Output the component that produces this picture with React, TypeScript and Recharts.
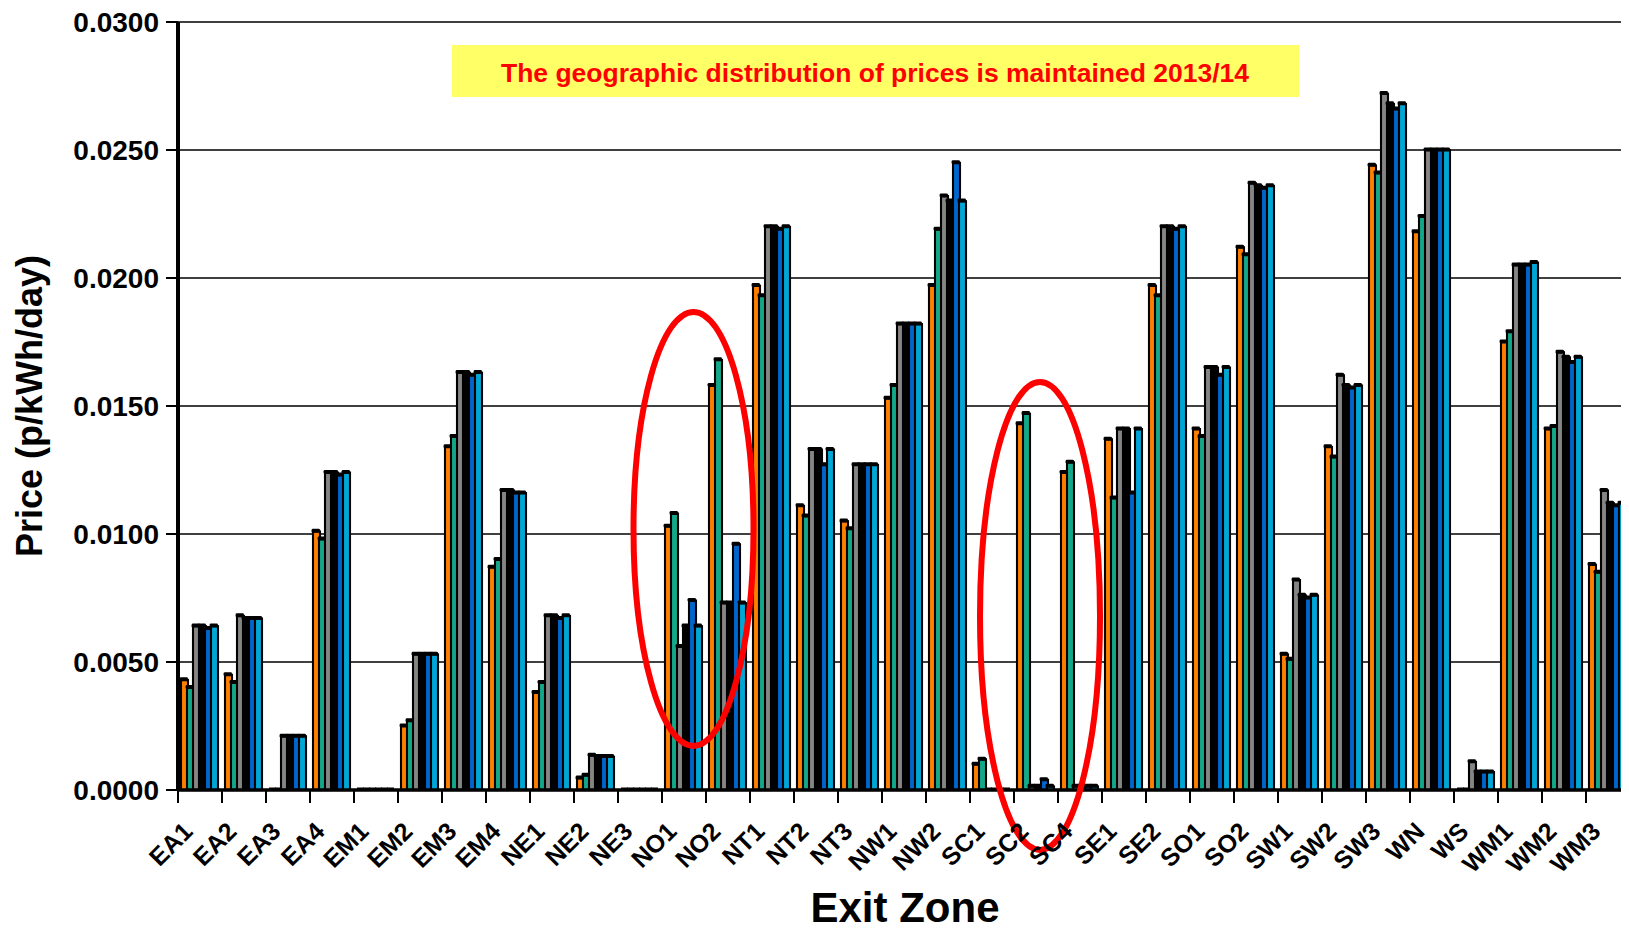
import React from "react";
import {
  BarChart,
  Bar,
  XAxis,
  YAxis,
  CartesianGrid,
  ReferenceDot,
} from "recharts";

const zones = [
  "EA1", "EA2", "EA3", "EA4", "EM1", "EM2", "EM3", "EM4", "NE1", "NE2", "NE3",
  "NO1", "NO2", "NT1", "NT2", "NT3", "NW1", "NW2", "SC1", "SC2", "SC4", "SE1",
  "SE2", "SO1", "SO2", "SW1", "SW2", "SW3", "WN", "WS", "WM1", "WM2", "WM3",
];

const orangeVals = [
  0.0043, 0.0045, 0.00005, 0.0101, 0.00005, 0.0025, 0.0134, 0.0087, 0.0038, 0.00046, 0.00005,
  0.0103, 0.0158, 0.0197, 0.0111, 0.0105, 0.0153, 0.0197, 0.001, 0.0143, 0.0124, 0.0137,
  0.0197, 0.0141, 0.0212, 0.0053, 0.0134, 0.0244, 0.0218, 0.00005, 0.0175, 0.0141, 0.0088,
];
const tealVals = [
  0.004, 0.0042, 0.00005, 0.0098, 0.00005, 0.0027, 0.0138, 0.009, 0.0042, 0.00057, 0.00005,
  0.0108, 0.0168, 0.0193, 0.0107, 0.0102, 0.0158, 0.0219, 0.0012, 0.0147, 0.0128, 0.0114,
  0.0193, 0.0138, 0.0209, 0.0051, 0.013, 0.0241, 0.0224, 0.00005, 0.0179, 0.0142, 0.0085,
];
const grayVals = [
  0.0064, 0.0068, 0.0021, 0.0124, 0.00005, 0.0053, 0.0163, 0.0117, 0.0068, 0.00135, 0.00005,
  0.0056, 0.0073, 0.022, 0.0133, 0.0127, 0.0182, 0.0232, 0.00005, 0.00014, 0.00014, 0.0141,
  0.022, 0.0165, 0.0237, 0.0082, 0.0162, 0.0272, 0.025, 0.0011, 0.0205, 0.0171, 0.0117,
];
const blackVals = [
  0.0064, 0.0067, 0.0021, 0.0124, 0.00005, 0.0053, 0.0163, 0.0117, 0.0068, 0.0013, 0.00005,
  0.0064, 0.0073, 0.022, 0.0133, 0.0127, 0.0182, 0.023, 0.00005, 0.00014, 0.00014, 0.0141,
  0.022, 0.0165, 0.0236, 0.0076, 0.0158, 0.0268, 0.025, 0.0007, 0.0205, 0.0169, 0.0112,
];
const blueVals = [
  0.0063, 0.0067, 0.0021, 0.0123, 0.00005, 0.0053, 0.0162, 0.0116, 0.0067, 0.0013, 0.00005,
  0.0074, 0.0096, 0.0219, 0.0127, 0.0127, 0.0182, 0.0245, 0.00005, 0.0004, 0.00014, 0.0116,
  0.0219, 0.0162, 0.0235, 0.0075, 0.0157, 0.0266, 0.025, 0.0007, 0.0205, 0.0167, 0.0111,
];
const cyanVals = [
  0.0064, 0.0067, 0.0021, 0.0124, 0.00005, 0.0053, 0.0163, 0.0116, 0.0068, 0.0013, 0.00005,
  0.0064, 0.0073, 0.022, 0.0133, 0.0127, 0.0182, 0.023, 0.00005, 0.00014, 0.00014, 0.0141,
  0.022, 0.0165, 0.0236, 0.0076, 0.0158, 0.0268, 0.025, 0.0007, 0.0206, 0.0169, 0.0112,
];

const yTicks = [0, 0.005, 0.01, 0.015, 0.02, 0.025, 0.03];

const series = [
  { key: "orange", color: "#FF8000", values: orangeVals },
  { key: "teal", color: "#14A88A", values: tealVals },
  { key: "gray", color: "#858585", values: grayVals },
  { key: "black", color: "#000000", values: blackVals },
  { key: "blue", color: "#0066CC", values: blueVals },
  { key: "cyan", color: "#00A6D6", values: cyanVals },
];

const chartData = zones.map((zone, i) => {
  const row: Record<string, string | number> = { zone };
  series.forEach((s) => {
    row[s.key] = s.values[i];
  });
  return row;
});

const FONT = "'Liberation Sans', Arial, Helvetica, sans-serif";

// column with a heavy outline and a dark lip on top, like the old 3-D Excel look
function Bar3D(props: any) {
  const { x, y, width, height, fill } = props;
  if (width == null || height == null) return null;
  const w = width + 1;
  if (height < 2) {
    return <rect x={x} y={y + height - 2.5} width={w} height={2.5} fill="#000" />;
  }
  return (
    <g>
      <rect x={x} y={y} width={w} height={height} fill={fill} stroke="#000" strokeWidth={2.1} />
      <rect x={x - 1.4} y={y - 2.6} width={w + 1.4} height={4} rx={1.4} fill="#000" />
    </g>
  );
}

function ZoneTick(props: any) {
  const { x, y, payload } = props;
  return (
    <g>
      <line x1={x - 22} x2={x - 22} y1={y} y2={y + 13} stroke="#000" strokeWidth={2} />
      <text
        transform={`translate(${x - 6},${y + 43}) rotate(-45)`}
        textAnchor="end"
        fontSize={25}
        fontWeight="bold"
        fontFamily={FONT}
        fill="#000"
      >
        {payload.value}
      </text>
    </g>
  );
}

function Ring({ cx, cy, dx, rx, ry }: any) {
  return <ellipse cx={cx + dx} cy={cy} rx={rx} ry={ry} fill="none" stroke="#FF0000" strokeWidth={6} />;
}

export default function App() {
  return (
    <div style={{ margin: -8, width: 1629, height: 932, overflow: "hidden", position: "relative", background: "#fff" }}>
      <BarChart
        width={1640}
        height={932}
        data={chartData}
        margin={{ top: 22, right: 10, left: 78, bottom: 82 }}
        barCategoryGap={3}
        barGap={0}
      >
        <CartesianGrid vertical={false} stroke="#000" strokeWidth={1.7} />
        <XAxis
          dataKey="zone"
          interval={0}
          height={60}
          tickLine={false}
          tickSize={0}
          tickMargin={0}
          axisLine={{ stroke: "#000", strokeWidth: 3.5 }}
          tick={<ZoneTick />}
        />
        <YAxis
          width={100}
          domain={[0, 0.03]}
          ticks={yTicks}
          tickFormatter={(v: number) => v.toFixed(4)}
          tickSize={12}
          tickMargin={7}
          tickLine={{ stroke: "#000", strokeWidth: 2 }}
          axisLine={{ stroke: "#000", strokeWidth: 4 }}
          tick={{ fontSize: 28, fontWeight: 700, fill: "#000", fontFamily: FONT }}
        />
        {series.map((s) => (
          <Bar
            key={s.key}
            dataKey={s.key}
            fill={s.color}
            shape={<Bar3D />}
            isAnimationActive={false}
          />
        ))}
        <ReferenceDot
          x="NO1"
          y={0.0102}
          r={1}
          shape={(p: any) => <Ring {...p} dx={9.5} rx={60} ry={217} />}
        />
        <ReferenceDot
          x="SC2"
          y={0.0068}
          r={1}
          shape={(p: any) => <Ring {...p} dx={4} rx={60} ry={234} />}
        />
      </BarChart>
      <svg
        width={1629}
        height={932}
        style={{ position: "absolute", left: 0, top: 0, pointerEvents: "none" }}
      >
        <rect x={452} y={45} width={847} height={52} fill="#FFFF66" />
        <text x={875} y={82} textAnchor="middle" fontSize={26.5} fontWeight="bold" fontFamily={FONT} fill="#FF0000">
          The geographic distribution of prices is maintained 2013/14
        </text>
        <text
          transform="translate(42,406) rotate(-90)"
          textAnchor="middle"
          fontSize={36}
          fontWeight="bold"
          fontFamily={FONT}
          fill="#000"
        >
          Price (p/kWh/day)
        </text>
        <text x={905} y={922} textAnchor="middle" fontSize={42} fontWeight="bold" fontFamily={FONT} fill="#000">
          Exit Zone
        </text>
      </svg>
    </div>
  );
}
